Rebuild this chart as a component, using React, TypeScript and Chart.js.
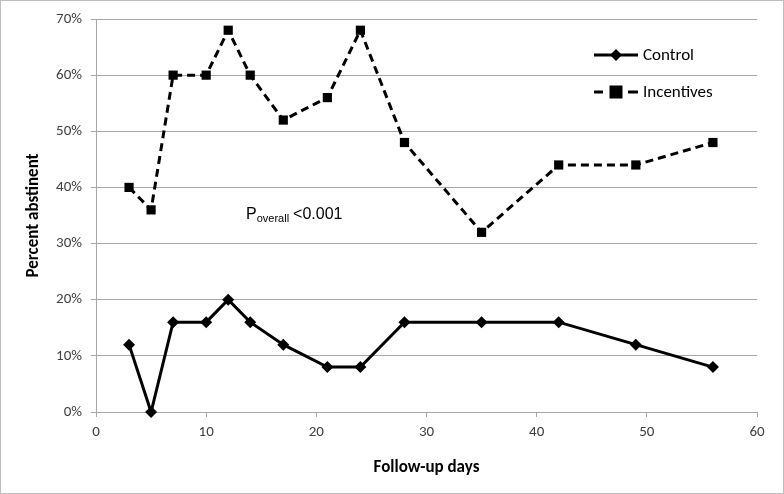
import React, { useEffect, useRef } from "react";
import { Chart, registerables } from "chart.js";

Chart.register(...registerables);

const days = [3, 5, 7, 10, 12, 14, 17, 21, 24, 28, 35, 42, 49, 56];
const control = [12, 0, 16, 16, 20, 16, 12, 8, 8, 16, 16, 16, 12, 8];
const incentives = [40, 36, 60, 60, 68, 60, 52, 56, 68, 48, 32, 44, 44, 48];
const seriesNames = ["Control", "Incentives"];
const xTitle = "Follow-up days";
const yTitle = "Percent abstinent";

const axisFont = "Calibri, Carlito, Lato, 'Open Sans', sans-serif";
const gray = "#a6a6a6";
const labelColor = "#404040";

const overlay = {
  id: "overlay",
  afterDraw(chart: any) {
    const ctx = chart.ctx;
    ctx.save();
    // border
    ctx.strokeStyle = "#bfbfbf";
    ctx.lineWidth = 1;
    ctx.strokeRect(0.5, 0.5, chart.width - 1, chart.height - 1);
    // annotation
    ctx.fillStyle = "#000";
    ctx.textBaseline = "alphabetic";
    ctx.textAlign = "left";
    const bx = 246, by = 219;
    ctx.font = "16px 'Liberation Sans', Arial, sans-serif";
    ctx.fillText("P", bx, by);
    let w = ctx.measureText("P").width;
    ctx.font = "11px 'Liberation Sans', Arial, sans-serif";
    ctx.fillText("overall", bx + w, by + 3);
    w += ctx.measureText("overall").width + 4;
    ctx.font = "16px 'Liberation Sans', Arial, sans-serif";
    ctx.fillText("<0.001", bx + w, by);
    // legend
    const items = [
      { name: seriesNames[0], y: 55, dash: [], style: "diamond" },
      { name: seriesNames[1], y: 92, dash: [8, 5], style: "square" },
    ];
    for (const it of items) {
      ctx.strokeStyle = "#000";
      ctx.lineWidth = 3;
      ctx.beginPath();
      if (it.dash.length) {
        ctx.moveTo(594, it.y);
        ctx.lineTo(603, it.y);
        ctx.moveTo(628, it.y);
        ctx.lineTo(638, it.y);
      } else {
        ctx.moveTo(594, it.y);
        ctx.lineTo(638, it.y);
      }
      ctx.stroke();
      ctx.fillStyle = "#000";
      const cx = 616;
      ctx.beginPath();
      if (it.style === "diamond") {
        ctx.moveTo(cx, it.y - 6);
        ctx.lineTo(cx + 6, it.y);
        ctx.lineTo(cx, it.y + 6);
        ctx.lineTo(cx - 6, it.y);
        ctx.closePath();
      } else {
        ctx.rect(cx - 6.5, it.y - 6.5, 13, 13);
      }
      ctx.fill();
      ctx.font = "17px " + axisFont;
      ctx.fillStyle = "#000";
      ctx.textBaseline = "middle";
      ctx.fillText(it.name, 643, it.y + 1);
    }
    ctx.restore();
  },
};

export default function App() {
  const ref = useRef<HTMLCanvasElement>(null);
  useEffect(() => {
    document.body.style.margin = "0";
    const chart = new Chart(ref.current!, {
      type: "line",
      data: {
        datasets: [
          {
            label: seriesNames[0],
            data: days.map((d, i) => ({ x: d, y: control[i] })),
            borderColor: "#000",
            backgroundColor: "#000",
            borderWidth: 3,
            pointStyle: "rectRot",
            pointRadius: 6,
            pointBorderWidth: 0,
            pointBackgroundColor: "#000",
            tension: 0,
            clip: false,
          },
          {
            label: seriesNames[1],
            data: days.map((d, i) => ({ x: d, y: incentives[i] })),
            borderColor: "#000",
            backgroundColor: "#000",
            borderWidth: 3,
            borderDash: [8, 5],
            pointStyle: "rect",
            pointRadius: 6.5,
            pointBorderWidth: 0,
            pointBackgroundColor: "#000",
            tension: 0,
            clip: false,
          },
        ],
      },
      options: {
        responsive: false,
        animation: false,
        layout: { padding: { left: 0, right: 27, top: 19, bottom: 0 } },
        plugins: { legend: { display: false }, tooltip: { enabled: false } },
        scales: {
          x: {
            type: "linear",
            min: 0,
            max: 60,
            afterFit: (s: any) => { s.height = 82; },
            ticks: { stepSize: 10, color: labelColor, font: { family: axisFont, size: 15 }, padding: 6 },
            grid: { drawOnChartArea: false, drawTicks: true, tickLength: 5, color: gray },
            border: { color: gray, width: 1 },
            title: { display: true, text: xTitle, color: "#000", font: { family: axisFont, size: 17, weight: "bold" }, padding: { top: 4, bottom: 16 } },
          },
          y: {
            min: 0,
            max: 70,
            afterFit: (s: any) => { s.width = 96; },
            ticks: { stepSize: 10, color: labelColor, font: { family: axisFont, size: 15 }, padding: 9, callback: (v: any) => v + "%" },
            grid: { color: gray, tickLength: 5, drawTicks: true },
            border: { color: gray, width: 1 },
            title: { display: true, text: yTitle, color: "#000", font: { family: axisFont, size: 17, weight: "bold" }, padding: { top: 24, bottom: 0 } },
          },
        },
      },
      plugins: [overlay],
    });
    return () => chart.destroy();
  }, []);
  return <canvas ref={ref} width={784} height={494} style={{ display: "block" }} />;
}
